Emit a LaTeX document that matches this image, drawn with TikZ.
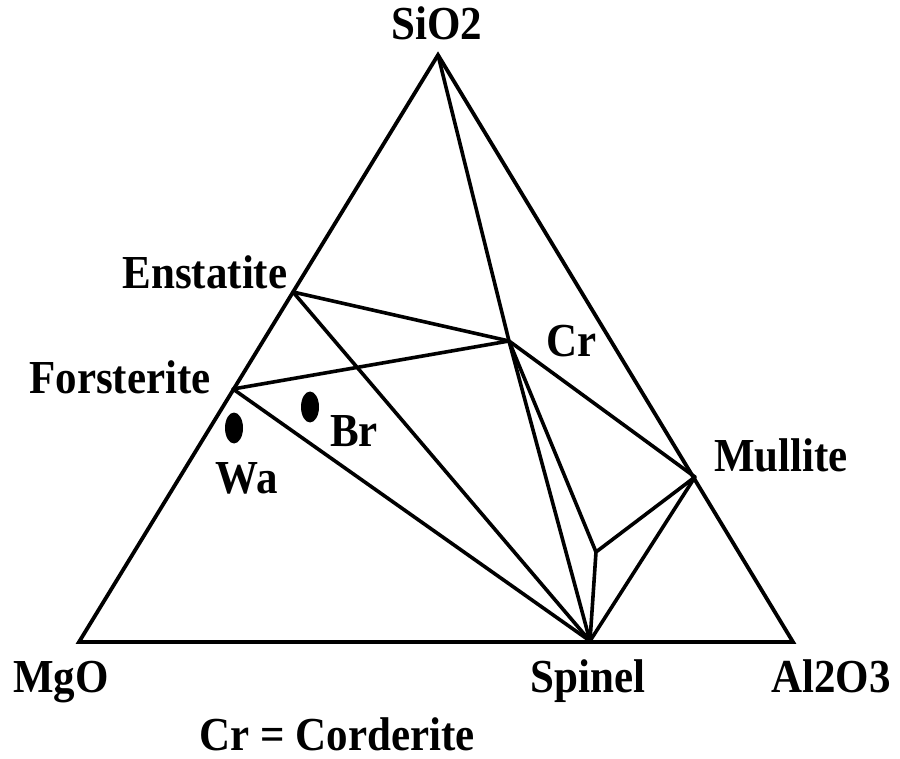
\documentclass[tikz,border=0pt]{standalone}
\usepackage{fontspec}
\setmainfont{Liberation Serif}
\usetikzlibrary{shapes.geometric}
\tikzset{
  lbl/.style={anchor=base, inner sep=0pt, yscale=1.1, font=\fontsize{43}{50}\selectfont\bfseries},
  edge/.style={line width=3.8pt, line join=miter, line cap=round},
  tie/.style={line width=3.6pt, line cap=round},
  dot/.style={ellipse, fill=black, minimum width=18pt, minimum height=31pt, inner sep=0pt}
}
\begin{document}
\begin{tikzpicture}[x=1pt,y=-1pt]
\useasboundingbox (0,0) rectangle (900,759);
% vertices
\coordinate (si) at (438,55);
\coordinate (mg) at (79,642);
\coordinate (al) at (793,642);
\coordinate (en) at (293,292);
\coordinate (fo) at (233,389);
\coordinate (cr) at (509,341);
\coordinate (mu) at (695,477);
\coordinate (sp) at (590,641);
\coordinate (p) at (596,552);
% outline
\draw[edge] (si) -- (mg) -- (al) -- cycle;
% tie lines
\draw[tie] (si) -- (cr);
\draw[tie] (en) -- (cr);
\draw[tie] (fo) -- (cr);
\draw[tie] (en) -- (sp);
\draw[tie] (fo) -- (sp);
\draw[tie] (cr) -- (sp);
\draw[tie] (cr) -- (p);
\draw[tie] (p) -- (sp);
\draw[tie] (p) -- (mu);
\draw[tie] (mu) -- (sp);
\draw[tie] (cr) -- (mu);
% sample dots
\node[dot] (wa) at (234,428) {};
\node[dot] (br) at (310,407) {};
% labels
\node[lbl] (lsi) at (437,40) {SiO2};
\node[lbl] (len) at (205,289) {Enstatite};
\node[lbl] (lfo) at (120,393) {Forsterite};
\node[lbl] (lcr) at (572,356) {Cr};
\node[lbl] (lmu) at (781,471) {Mullite};
\node[lbl] (lwa) at (247,493) {Wa};
\node[lbl] (lbr) at (354,446) {Br};
\node[lbl] (lmg) at (61,692) {MgO};
\node[lbl] (lsp) at (588,692) {Spinel};
\node[lbl] (lal) at (831,692) {Al2O3};
\node[lbl] (lkey) at (337,750) {Cr = Corderite};
\end{tikzpicture}
\end{document}
